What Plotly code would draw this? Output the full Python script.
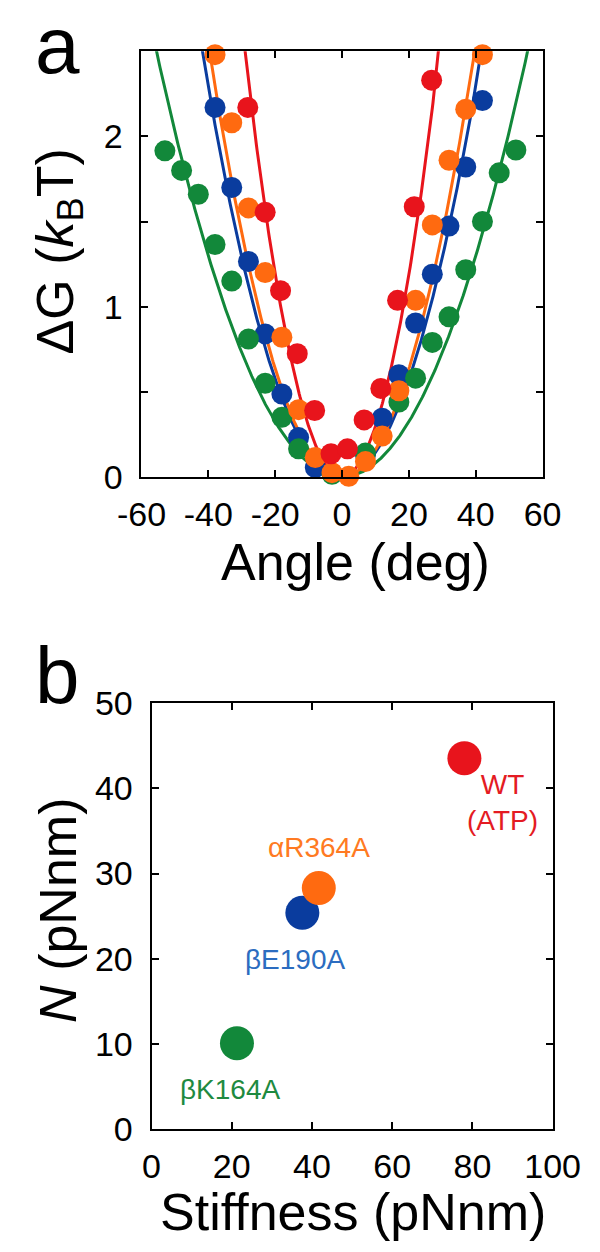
import numpy as np
import plotly.graph_objects as go

# ---------------- data: panel a (angle histograms -> free energy) ----------------
green_angle = [-53, -48, -43, -38, -33, -28, -23, -18, -13, -3, 7, 17, 22, 27, 32, 37, 42, 47, 52]
green_dG = [1.915, 1.80, 1.66, 1.365, 1.15, 0.81, 0.55, 0.35, 0.165, 0.015, 0.14, 0.44, 0.58, 0.79, 0.94, 1.217, 1.50, 1.786, 1.92]

blue_angle = [-38, -33, -28, -23, -18, -13, -8, 7, 12, 17, 22, 27, 32, 37, 42]
blue_dG = [2.17, 1.70, 1.265, 0.84, 0.487, 0.231, 0.055, 0.13, 0.345, 0.60, 0.904, 1.19, 1.473, 1.82, 2.21]

orange_angle = [-38, -33, -28, -23, -18, -13, -8, -3, 2, 7, 12, 17, 22, 27, 32, 37, 42]
orange_dG = [2.48, 2.08, 1.58, 1.20, 0.82, 0.395, 0.114, 0.025, 0.004, 0.09, 0.24, 0.506, 1.037, 1.48, 1.86, 2.16, 2.48]

red_angle = [-28.2, -23, -18.4, -13.4, -8.2, -3.3, 1.6, 6.6, 11.6, 16.6, 21.6, 26.8]
red_dG = [2.17, 1.555, 1.094, 0.724, 0.39, 0.136, 0.165, 0.335, 0.52, 1.037, 1.587, 2.33]

# ---------------- data: panel b (stiffness vs torque) ----------------
mutants = ["βK164A", "βE190A", "αR364A", "WT<br>(ATP)"]
stiffness = [21.3, 37.6, 41.7, 78.0]   # pN nm
torque = [10.1, 25.4, 28.3, 43.5]      # pN nm

kBT = 4.0  # pN nm, used for the harmonic fits drawn in panel a

x_ticks_a = [-60, -40, -20, 0, 20, 40, 60]
x_ticktext_a = ["-60", "-40", "-20", "0", "20", "40", "60"]
y_ticks_a = [0, 1, 2]
y_minor_a = [0.5, 1.5]
x_ticks_b = [0, 20, 40, 60, 80, 100]
y_ticks_b = [0, 10, 20, 30, 40, 50]

# ---------------- styling ----------------
c_green, c_blue, c_orange, c_red = "#12883A", "#0A3C9E", "#FF6A10", "#E8141C"
lab_colors = ["#1E8A40", "#2B6CC0", "#FF7A22", "#E41B23"]
FONT = "Liberation Sans, Arial, sans-serif"

fig = go.Figure()

theta = np.linspace(-60, 60, 601)
series = [
    (blue_angle, blue_dG, c_blue, stiffness[1]),
    (green_angle, green_dG, c_green, stiffness[0]),
    (orange_angle, orange_dG, c_orange, stiffness[2]),
    (red_angle, red_dG, c_red, stiffness[3]),
]
for ang, dg, col, k in series:
    fit = 0.5 * k * np.deg2rad(theta) ** 2 / kBT
    fig.add_trace(go.Scatter(x=theta, y=fit, mode="lines",
                             line=dict(color=col, width=3), xaxis="x", yaxis="y",
                             showlegend=False, hoverinfo="skip"))
for ang, dg, col, k in series:
    fig.add_trace(go.Scatter(x=ang, y=dg, mode="markers",
                             marker=dict(color=col, size=21, line=dict(width=0)),
                             xaxis="x", yaxis="y", cliponaxis=False, showlegend=False))

# panel b points
pt_colors = [c_green, c_blue, c_orange, c_red]
fig.add_trace(go.Scatter(x=stiffness, y=torque, mode="markers",
                         marker=dict(color=pt_colors, size=34, line=dict(width=0)),
                         xaxis="x2", yaxis="y2", cliponaxis=False, showlegend=False))

axis_common = dict(showline=True, linecolor="black", linewidth=2, mirror="ticks",
                   ticks="inside", ticklen=7, tickwidth=2, tickcolor="black",
                   showgrid=False, zeroline=False,
                   tickfont=dict(family=FONT, size=34, color="black"))

fig.update_layout(
    width=600, height=1252,
    margin=dict(l=0, r=0, t=0, b=0),
    paper_bgcolor="white", plot_bgcolor="white",
    xaxis=dict(domain=[119 / 600, 559 / 600], range=[-60, 60],
               tickvals=x_ticks_a, ticktext=x_ticktext_a, ticklabelstandoff=6,
               anchor="y", **axis_common),
    yaxis=dict(domain=[1 - 464 / 1252, 1 - 25 / 1252], range=[0, 2.5],
               tickvals=y_ticks_a, ticklabelstandoff=10,
               minor=dict(tickmode="array", tickvals=y_minor_a, ticks="inside",
                          ticklen=7, tickwidth=2, tickcolor="black", showgrid=False),
               anchor="x", **axis_common),
    xaxis2=dict(domain=[130 / 600, 570 / 600], range=[0, 100],
                tickvals=x_ticks_b, ticklabelstandoff=6, anchor="y2", **axis_common),
    yaxis2=dict(domain=[1 - 1137 / 1252, 1 - 697 / 1252], range=[0, 50],
                tickvals=y_ticks_b, ticklabelstandoff=10, anchor="x2", **axis_common),
)

annotations = [
    dict(text="a", x=0, y=1 - 19 / 1252, xref="paper", yref="paper",
         xanchor="left", yanchor="middle", showarrow=False,
         font=dict(family=FONT, size=80, color="black")),
    dict(text="b", x=0, y=1 - 669 / 1252, xref="paper", yref="paper",
         xanchor="left", yanchor="middle", showarrow=False,
         font=dict(family=FONT, size=80, color="black")),
    dict(text="Angle (deg)", x=354 / 600, y=1 - 552 / 1252, xref="paper", yref="paper",
         xanchor="center", yanchor="middle", showarrow=False,
         font=dict(family=FONT, size=52, color="black")),
    dict(text="ΔG (<i>k</i><sub>B</sub>T)", x=28 / 600, y=1 - 232 / 1252,
         xref="paper", yref="paper", textangle=-90,
         xanchor="center", yanchor="middle", showarrow=False,
         font=dict(family=FONT, size=52, color="black")),
    dict(text="Stiffness (pNnm)", x=351 / 600, y=1 - 1222 / 1252, xref="paper", yref="paper",
         xanchor="center", yanchor="middle", showarrow=False,
         font=dict(family=FONT, size=52, color="black")),
    dict(text="<i>N</i> (pNnm)", x=28 / 600, y=1 - 911 / 1252,
         xref="paper", yref="paper", textangle=-90,
         xanchor="center", yanchor="middle", showarrow=False,
         font=dict(family=FONT, size=52, color="black")),
]
label_pos = [(19.6, 4.7), (35.7, 19.9), (41.7, 33.1), (87.5, 38.3)]
for name, (lx, ly), col in zip(mutants, label_pos, lab_colors):
    annotations.append(dict(text=name, x=lx, y=ly, xref="x2", yref="y2",
                            xanchor="center", yanchor="middle", showarrow=False,
                            font=dict(family=FONT, size=28, color=col)))
fig.update_layout(annotations=annotations)

fig.write_html("out.html")
